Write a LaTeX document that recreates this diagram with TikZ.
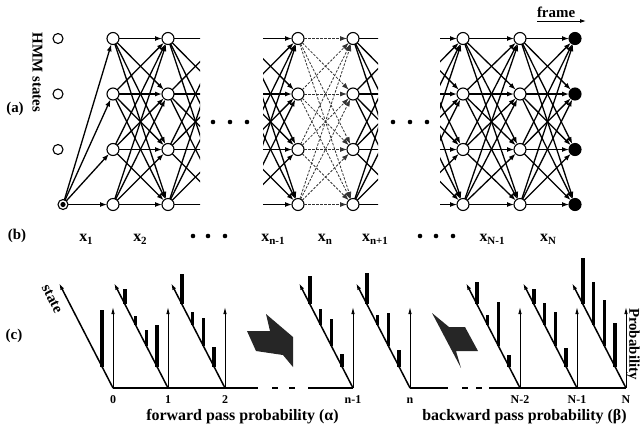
\documentclass[tikz,border=0pt]{standalone}
\usepackage{fontspec}
\setmainfont{Liberation Serif}
\usetikzlibrary{arrows.meta, positioning}

\newcommand{\xlab}[1]{x\raisebox{-0.45ex}{\fontsize{11}{11}\selectfont#1}}

\begin{document}
\begin{tikzpicture}[x=1bp,y=-1bp,inner sep=0pt,outer sep=0pt,
  font=\fontsize{16}{18}\selectfont\bfseries,
  st/.style={circle,draw,line width=1.1bp,fill=white,minimum size=12bp},
  hmm/.style={st,minimum size=10bp},
  stfin/.style={st,fill=black},
  tr/.style={line width=1.3bp,-{Latex[length=7bp,width=5bp]}},
  trcut/.style={line width=1.3bp},
  trdash/.style={line width=0.8bp,black!80,dash pattern=on 2.5bp off 1.5bp,-{Latex[length=7bp,width=5bp]}},
  pax/.style={line width=0.9bp,-{Latex[length=7bp,width=3.5bp]}},
  sax/.style={line width=1.5bp,-{Latex[length=7bp,width=4bp]}},
  axis/.style={line width=1.5bp},
  bar/.style={line width=3.6bp},
  ticklab/.style={font=\fontsize{12}{12}\selectfont\bfseries,anchor=base},
  partlab/.style={font=\fontsize{15}{15}\selectfont\bfseries},
  fat/.style={fill=black!85}]
\useasboundingbox (0,0) rectangle (643,429);

% (a) HMM states
\foreach \r/\y in {1/38.5,2/94,3/149.5} \node[hmm] (s\r) at (58,\y) {};
\node[hmm] (s4) at (63,204.5) {};
\fill (s4.center) circle (2.6bp);
\node[partlab,rotate=-90] (hmmlab) at (37.5,72.5) {HMM states};
\node[partlab] (alab) at (15,109) {(a)};

% trellis columns, ghost columns are only coordinates
\foreach \r/\y in {1/38.5,2/94,3/149.5,4/204.5} {
  \node[st] (a\r) at (113,\y) {};
  \node[st] (b\r) at (168,\y) {};
  \coordinate (bx\r) at (223,\y);
  \coordinate (cx\r) at (243,\y);
  \node[st] (c\r) at (298,\y) {};
  \node[st] (d\r) at (353,\y) {};
  \coordinate (dx\r) at (408,\y);
  \node[st] (e\r) at (463,\y) {};
  \node[st] (f\r) at (520,\y) {};
  \node[stfin] (g\r) at (575,\y) {};
}

\foreach \j in {1,...,4} \draw[tr] (s4) -- (a\j);
\foreach \i in {1,...,4} \foreach \j in {1,...,4} {
  \draw[tr] (a\i) -- (b\j);
  \draw[trdash] (c\i) -- (d\j);
  \draw[tr] (e\i) -- (f\j);
  \draw[tr] (f\i) -- (g\j);
}
\begin{scope}
  \clip (168,20) rectangle (200,225);
  \foreach \i in {1,...,4} \foreach \j in {1,...,4} \draw[trcut] (b\i) -- (bx\j);
\end{scope}
\begin{scope}
  \clip (263,20) rectangle (298,225);
  \foreach \i in {1,...,4} \foreach \j in {1,...,4} \draw[tr] (cx\i) -- (c\j);
\end{scope}
\begin{scope}
  \clip (353,20) rectangle (378,225);
  \foreach \i in {1,...,4} \foreach \j in {1,...,4} \draw[trcut] (d\i) -- (dx\j);
\end{scope}
\begin{scope}
  \clip (440,20) rectangle (463,225);
  \foreach \i in {1,...,4} \foreach \j in {1,...,4} \draw[tr] (dx\i) -- (e\j);
\end{scope}

\foreach \x in {213,230,247,393,410,427} \fill (\x,122) circle (2.3bp);

\node[font=\fontsize{15}{15}\selectfont\bfseries,anchor=base west] (frm) at (537,17) {frame};
\draw[line width=0.9bp,-{Latex[length=6bp,width=4bp]}] ([yshift=-4bp]frm.base west) -- ++(49,0);

% (b) frames
\node[partlab] (blab) at (17,236) {(b)};
\foreach \x/\s in {86/1,140/2,273/n-1,325/n,375/n+1,492/N-1,548/N}
  \node[anchor=base] (x\s) at (\x,241) {\xlab{\s}};
\foreach \x in {193,208,225,420,436,453} \fill (\x,236) circle (2.3bp);

% (c) probabilities
\node[partlab] (clab) at (14,336) {(c)};
\draw[axis] (113,388) -- (258,388);
\draw[axis] (272,388) -- (278,388) (289,388) -- (295,388);
\draw[axis] (308,388) -- (353,388);
\draw[axis] (410,388) -- (448,388);
\draw[axis] (462,388) -- (468,388) (476,388) -- (482,388);
\draw[axis] (489,388) -- (626,388);

\foreach \n/\x/\lab/\bars in {
    t0/113/0/{0.2/57},
    t1/168/1/{0.2/42,0.4/16,0.6/9,0.8/15},
    t2/225/2/{0.2/20,0.4/28,0.6/13,0.8/30},
    t3/353/n-1/{0.2/13,0.4/27,0.6/16,0.8/28},
    t4/410/n/{0.2/17,0.4/33,0.6/10,0.8/31},
    t5/520/N-2/{0.2/12,0.4/44,0.6/10,0.8/22},
    t6/577/N-1/{0.2/19,0.4/34,0.6/22,0.8/15},
    t7/626/N/{0.2/44,0.4/46,0.6/43,0.8/46}} {
  \coordinate (\n) at (\x,388);
  \draw[pax] (\n) -- ++(0,-81);
  \draw[sax] (\n) -- ++(-54,-105);
  \foreach \t/\h in \bars
    \draw[bar] ([shift={(-54*\t,-105*\t)}]\n) -- ++(0,-\h);
  \node[ticklab] (\n-l) at (\x,403) {\lab};
}

\node[partlab,rotate=-62.8] (statelab) at (52,299) {state};
\node[partlab,rotate=-90] (problab) at (633,344) {Probability};

\fill[fat] (247,331) -- (270,331) -- (266,314) -- (293,337) -- (293,367) -- (283,355) -- (256,351) -- cycle;
\fill[fat] (432,313) -- (449,327) -- (465,327) -- (478,351) -- (456,351) -- (461,368) -- cycle;

\node[anchor=base] (fwd) at (242.5,420) {forward pass probability (α)};
\node[anchor=base] (bwd) at (524.5,420) {backward pass probability (β)};
\end{tikzpicture}
\end{document}
